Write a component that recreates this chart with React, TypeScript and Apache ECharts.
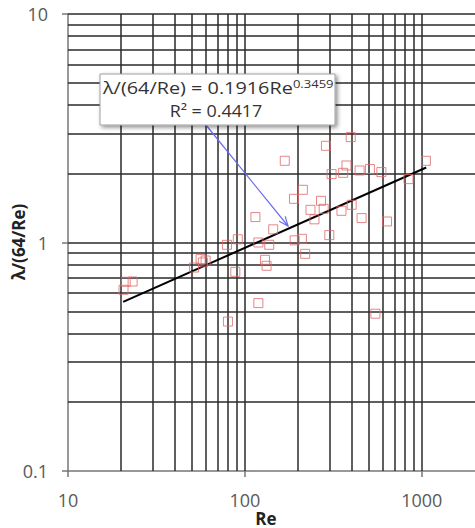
import React, { useEffect, useRef } from "react";
import * as echarts from "echarts";

const reValues = [
  20.6, 21.2, 23.2, 51.6, 56.2, 57.9, 60.0, 79.2, 91.2, 88.3, 80.2, 119.2, 129.9, 132.6, 137.3,
  119.2, 191.2, 210.1, 219.2, 300.1, 287.3, 168.1, 309.2, 359.5, 212.8, 189.5, 269.4, 235.0,
  279.0, 247.4, 351.7, 114.7, 144.6, 396.5, 375.2, 445.3, 509.2, 591.1, 841.4, 1055.6, 401.7,
  456.9, 636.3, 547.1,
];
const ratioValues = [
  0.621, 0.673, 0.675, 0.777, 0.846, 0.818, 0.834, 0.977, 1.033, 0.744, 0.451, 0.543, 0.84,
  0.791, 0.977, 1.0, 1.022, 1.038, 0.892, 1.077, 2.65, 2.278, 1.993, 2.018, 1.701, 1.553, 1.522,
  1.39, 1.404, 1.263, 1.376, 1.292, 1.142, 2.893, 2.173, 2.066, 2.096, 2.033, 1.894, 2.278,
  1.462, 1.279, 1.236, 0.488,
];
const trendX = [20.5, 1060];
const trendY = [0.55, 2.13];
const xGridValues = [20, 30, 40, 50, 60, 70, 80, 90, 100, 200, 300, 400, 500, 600, 700, 800, 900, 1000];
const yGridValues = [10, 9, 8, 7, 6, 5, 4, 3, 2, 1, 0.9, 0.8, 0.7, 0.6, 0.5, 0.4, 0.3, 0.2];
const equationText = "λ/(64/Re) = 0.1916Re";
const exponentText = "0.3459";
const r2Text = "R² = 0.4417";
const xTitle = "Re";
const yTitle = "λ/(64/Re)";

export default function App() {
  const ref = useRef<HTMLDivElement>(null);
  useEffect(() => {
    if (!ref.current) return;
    const chart = echarts.init(ref.current, null, { renderer: "svg" });
    const font = "'Open Sans', Lato, sans-serif";
    const isPow10 = (v: number) => Math.abs(Math.log10(v) - Math.round(Math.log10(v))) < 1e-6;
    const tip = [288, 226];
    const start = [206, 125];
    const dx = tip[0] - start[0];
    const dy = tip[1] - start[1];
    const len = Math.hypot(dx, dy);
    const ux = dx / len;
    const uy = dy / len;
    const ah = 10;
    const ang = 0.4;
    const rot = (a: number) => [
      tip[0] - ah * (ux * Math.cos(a) - uy * Math.sin(a)),
      tip[1] - ah * (ux * Math.sin(a) + uy * Math.cos(a)),
    ];
    const p1 = rot(ang);
    const p2 = rot(-ang);
    chart.setOption({
      animation: false,
      backgroundColor: "#ffffff",
      grid: { left: 68, top: 14, width: 411, bottom: 57 },
      xAxis: {
        type: "log",
        logBase: 10,
        min: 10,
        max: 2000,
        axisLine: { show: true, lineStyle: { color: "#777", width: 1.5 } },
        axisTick: { show: true, length: 6, lineStyle: { color: "#777", width: 1.5 } },
        axisLabel: {
          margin: 20,
          fontSize: 18,
          color: "#595959",
          fontFamily: font,
          showMaxLabel: false,
          formatter: (v: number) => (isPow10(v) ? String(Math.round(v)) : ""),
        },
        splitLine: { show: false },
      },
      yAxis: {
        type: "log",
        logBase: 10,
        min: 0.1,
        max: 10,
        axisLine: { show: true, lineStyle: { color: "#777", width: 1.5 } },
        axisTick: { show: true, length: 6, lineStyle: { color: "#777", width: 1.5 } },
        axisLabel: {
          margin: 20,
          fontSize: 18,
          color: "#595959",
          fontFamily: font,
          formatter: (v: number) => (v < 1 ? v.toFixed(1) : String(Math.round(v))),
        },
        splitLine: { show: false },
      },
      series: [
        {
          type: "line",
          data: [],
          silent: true,
          markLine: {
            silent: true,
            symbol: "none",
            animation: false,
            label: { show: false },
            lineStyle: { color: "#2a2a2a", width: 1.5, type: "solid" },
            data: [
              ...xGridValues.map((v) => ({ xAxis: v })),
              ...yGridValues.map((v) => ({ yAxis: v })),
            ],
          },
        },
        {
          type: "line",
          data: trendX.map((x, i) => [x, trendY[i]]),
          symbol: "none",
          lineStyle: { color: "#000", width: 2 },
          z: 5,
        },
        {
          type: "scatter",
          data: reValues.map((x, i) => [x, ratioValues[i]]),
          symbol: "rect",
          symbolSize: 9,
          itemStyle: { color: "rgba(255,255,255,0)", borderColor: "#e06868", borderWidth: 1 },
          z: 6,
        },
      ],
      graphic: [
        {
          type: "rect",
          shape: { x: 100, y: 74, width: 235, height: 51 },
          style: {
            fill: "#fff",
            stroke: "#a0a0a0",
            lineWidth: 1,
            shadowBlur: 4,
            shadowOffsetX: 2,
            shadowOffsetY: 2,
            shadowColor: "rgba(0,0,0,0.45)",
          },
          z: 10,
        },
        {
          type: "text",
          x: 103,
          y: 88,
          scaleX: 1.24,
          style: {
            text: "{m|" + equationText + "}{s|" + exponentText + "}",
            fill: "#333",
            verticalAlign: "middle",
            align: "left",
            rich: {
              m: { fontSize: 16, fontFamily: font, fill: "#333", lineHeight: 19 },
              s: { fontSize: 10.5, fontFamily: font, fill: "#333", lineHeight: 11, verticalAlign: "top" },
            },
          },
          z: 11,
        },
        {
          type: "text",
          x: 216,
          y: 111,
          scaleX: 1.12,
          style: {
            text: r2Text,
            fontSize: 16,
            fontFamily: font,
            fill: "#333",
            verticalAlign: "middle",
            align: "center",
          },
          z: 11,
        },
        {
          type: "line",
          shape: { x1: start[0], y1: start[1], x2: tip[0], y2: tip[1] },
          style: { stroke: "#6a6aee", lineWidth: 1.2 },
          z: 9,
        },
        {
          type: "polyline",
          shape: { points: [p1, tip, p2] },
          style: { stroke: "#6a6aee", lineWidth: 1.2, fill: "none" },
          z: 9,
        },
        {
          type: "text",
          x: 266,
          y: 518,
          style: {
            text: xTitle,
            fontSize: 17,
            fontWeight: "bold",
            fontFamily: font,
            fill: "#222",
            align: "center",
            verticalAlign: "middle",
          },
        },
        {
          type: "text",
          x: 18,
          y: 242,
          rotation: Math.PI / 2,
          style: {
            text: yTitle,
            fontSize: 17,
            fontWeight: "bold",
            fontFamily: font,
            fill: "#222",
            align: "center",
            verticalAlign: "middle",
          },
        },
      ],
    });
    return () => chart.dispose();
  }, []);
  return (
    <div
      ref={ref}
      style={{ position: "absolute", left: 0, top: 0, width: 475, height: 528, overflow: "hidden" }}
    />
  );
}
